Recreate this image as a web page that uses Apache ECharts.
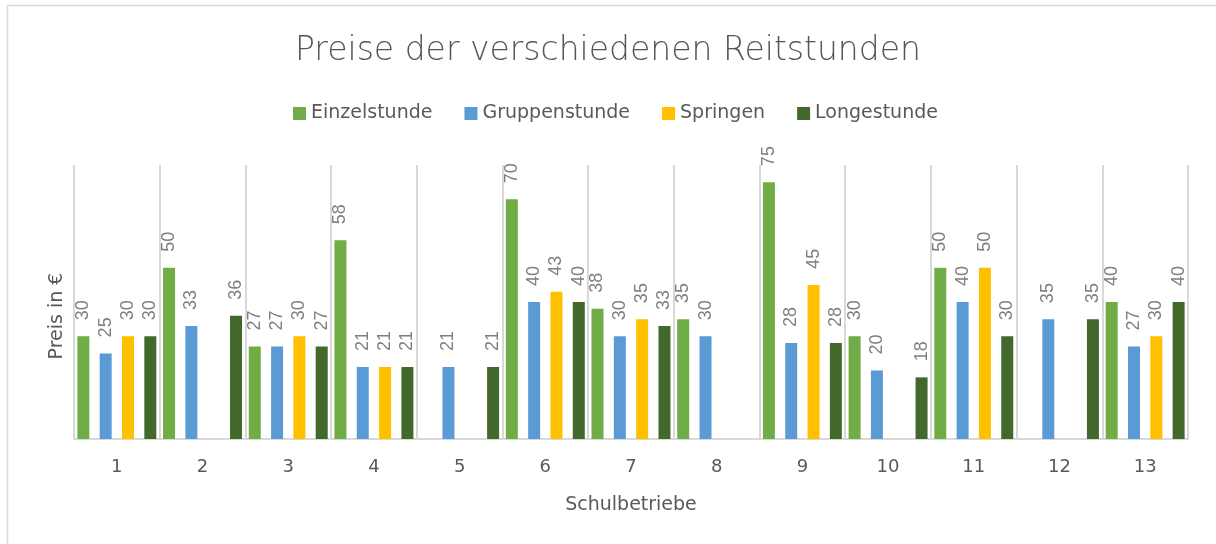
<!DOCTYPE html>
<html>
<head>
<meta charset="utf-8">
<script src="https://cdn.jsdelivr.net/npm/echarts@6/dist/echarts.min.js"></script>
<style>html,body{margin:0;padding:0;background:#fff;}#c{width:1216px;height:544px;}</style>
</head>
<body>
<div id="c"></div>
<script>
const categories = ['1','2','3','4','5','6','7','8','9','10','11','12','13'];
const seriesNames = ['Einzelstunde','Gruppenstunde','Springen','Longestunde'];
const einzelstunde = [30, 50, 27, 58, null, 70, 38, 35, 75, 30, 50, null, 40];
const gruppenstunde = [25, 33, 27, 21, 21, 40, 30, 30, 28, 20, 40, 35, 27];
const springen = [30, null, 30, 21, null, 43, 35, null, 45, null, 50, null, 30];
const longestunde = [30, 36, 27, 21, 21, 40, 33, null, 28, 18, 30, 35, 40];
const colors = ['#70AD47', '#5B9BD5', '#FFC000', '#43682B'];
const values = [einzelstunde, gruppenstunde, springen, longestunde];

const FONT = 'DejaVu Sans';
const chart = echarts.init(document.getElementById('c'), null, {renderer: 'canvas'});
chart.setOption({
  animation: false,
  backgroundColor: '#fff',
  title: {
    text: 'Preise der verschiedenen Reitstunden',
    left: 'center',
    top: 30,
    textStyle: {fontFamily: FONT, fontSize: 33, fontWeight: 300, color: '#555555'}
  },
  legend: {
    data: seriesNames,
    left: 288,
    top: 99,
    icon: 'rect',
    itemWidth: 13,
    itemHeight: 13,
    itemGap: 32,
    textStyle: {fontFamily: FONT, fontSize: 19, color: '#595959'}
  },
  grid: {left: 74, right: 28, top: 165, bottom: 105, containLabel: false},
  xAxis: {
    type: 'category',
    data: categories,
    name: 'Schulbetriebe',
    nameLocation: 'middle',
    nameGap: 57,
    nameTextStyle: {fontFamily: FONT, fontSize: 19, color: '#595959'},
    axisLine: {lineStyle: {color: '#d9d9d9', width: 2}},
    axisTick: {show: false},
    axisLabel: {fontFamily: FONT, fontSize: 18, color: '#595959', margin: 19, interval: 0},
    splitLine: {show: true, interval: 0, lineStyle: {color: '#d9d9d9', width: 2}}
  },
  yAxis: {
    type: 'value',
    min: 0,
    max: 80,
    show: false,
    splitLine: {show: false}
  },
  graphic: [
    {type: 'rect', silent: true, shape: {x: 7.5, y: 5.5, width: 1400, height: 1400},
     style: {fill: 'none', stroke: '#d9d9d9', lineWidth: 1.5}},
    {type: 'text', silent: true, x: 57, y: 316, rotation: Math.PI / 2,
     style: {text: 'Preis in €', fontFamily: FONT, fontSize: 19, fill: '#595959', align: 'center', verticalAlign: 'middle'}}
  ],
  series: seriesNames.map((n, i) => ({
    name: n,
    type: 'bar',
    data: values[i],
    barWidth: 12,
    barGap: '86%',
    itemStyle: {color: colors[i]},
    label: {
      show: true,
      position: 'top',
      rotate: 90,
      align: 'left',
      verticalAlign: 'middle',
      distance: 16,
      fontFamily: 'Liberation Sans',
      fontSize: 18,
      color: '#7f7f7f'
    }
  }))
});
</script>
</body>
</html>
